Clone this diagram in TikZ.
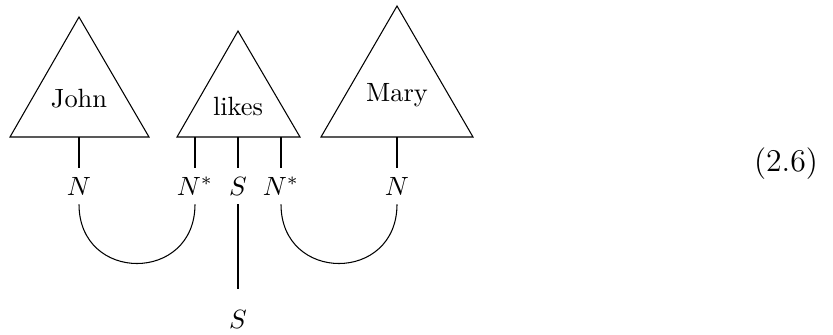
\documentclass[tikz,border=0pt]{standalone}
\begin{document}
\begin{tikzpicture}[x=0.3788pt,y=-0.3788pt,
  lbl/.style={inner xsep=1pt,inner ysep=3.3pt,text height=6.83pt,text depth=0pt},
  word/.style={inner sep=0pt},
  tri/.style={draw,line join=miter}]
\useasboundingbox (0,0) rectangle (833,334);
% triangles
\draw[tri] (79,17) -- (10,137) -- (149,137) -- cycle;
\draw[tri] (238,31) -- (177,137) -- (300,137) -- cycle;
\draw[tri] (397,6) -- (321,137) -- (473,137) -- cycle;
\node[word] (john) at (79,99) {John};
\node[word] (likes) at (238,106) {likes};
\node[word] (mary) at (397,95) {Mary};
% base points
\coordinate (bj) at (79,137);
\coordinate (bl1) at (195,137);
\coordinate (bl2) at (238,137);
\coordinate (bl3) at (281,137);
\coordinate (bm) at (397,137);
% labels
\node[lbl] (nj) at (79,186) {$N$};
\node[lbl] (nl1) at (195,186) {$N^*$};
\node[lbl] (sl) at (238,186) {$S$};
\node[lbl] (nl3) at (281,186) {$N^*$};
\node[lbl] (nm) at (397,186) {$N$};
\node[lbl] (sb) at (238,319) {$S$};
\node[font=\large,inner sep=0pt] (eq) at (786,164) {(2.6)};
% stems
\draw (bj) -- (nj.north);
\draw (bl1) -- (nl1.north);
\draw (bl2) -- (sl.north);
\draw (bl3) -- (nl3.north);
\draw (bm) -- (nm.north);
% links
\draw (nj.south) .. controls +(0,79) and +(0,79) .. (nl1.south);
\draw (nl3.south) .. controls +(0,79) and +(0,79) .. (nm.south);
\draw[shorten >=4.5pt] (sl.south) -- (sb.north);
\end{tikzpicture}
\end{document}
